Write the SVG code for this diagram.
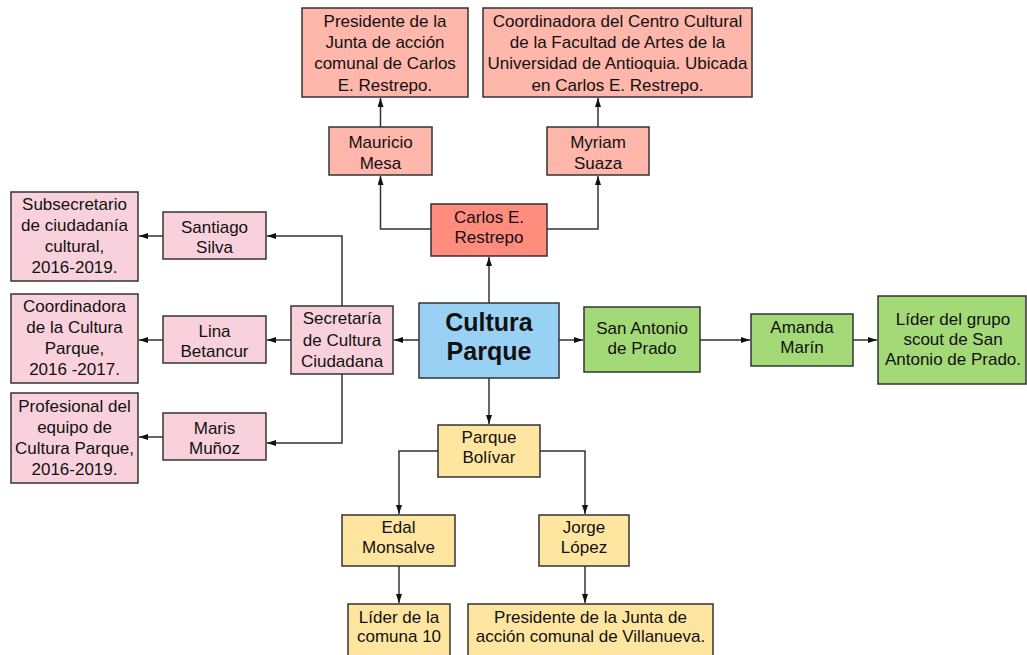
<svg xmlns="http://www.w3.org/2000/svg" width="1027" height="655" viewBox="0 0 1027 655">
<defs>
<style>
rect{stroke:#333;stroke-width:1.5}
.sal{fill:#FFB6AB}
.red{fill:#FF8C7C}
.pink{fill:#F9D1DC}
.blue{fill:#99D1F4}
.green{fill:#A3D977}
.yel{fill:#FFE6A0}
text{font-family:"Liberation Sans",Arial,sans-serif;font-size:17px;fill:#111;text-anchor:middle}
.big{font-size:25px;font-weight:bold}
.c path{fill:none;stroke:#333;stroke-width:1.5;marker-end:url(#ah)}
</style>
<marker id="ah" markerUnits="userSpaceOnUse" markerWidth="10" markerHeight="8" refX="9" refY="3" orient="auto">
<path d="M0,0 L9,3 L0,6 z" fill="#111"/>
</marker>
</defs>
<rect width="1027" height="655" fill="#fff" style="stroke:none"/>

<g class="c" id="connectors">
<path d="M489,303 V257"/>
<path d="M431,229 H380.5 V176"/>
<path d="M547,229 H598 V176"/>
<path d="M380.5,127 V98"/>
<path d="M598,127 V98"/>
<path d="M419,340 H394"/>
<path d="M342,306 V236 H267"/>
<path d="M291,340 H267"/>
<path d="M342,374 V443 H267"/>
<path d="M163,236 H139"/>
<path d="M163,340 H139"/>
<path d="M163,437 H139"/>
<path d="M559,340 H583"/>
<path d="M700,340 H750"/>
<path d="M853,340 H877"/>
<path d="M489,378 V424"/>
<path d="M438,451 H399 V514"/>
<path d="M540,451 H585 V514"/>
<path d="M399,566 V603"/>
<path d="M585,566 V603"/>
</g>

<g id="presidente-cer">
<rect class="sal" x="302" y="8" width="166" height="89"/>
<text x="385" y="26.5">Presidente de la</text>
<text x="385" y="48">Junta de acción</text>
<text x="385" y="69">comunal de Carlos</text>
<text x="385" y="90.5">E. Restrepo.</text>
</g>
<g id="coordinadora-centro">
<rect class="sal" x="483" y="8" width="269" height="89"/>
<text x="617.5" y="26.5">Coordinadora del Centro Cultural</text>
<text x="617.5" y="48">de la Facultad de Artes de la</text>
<text x="617.5" y="69">Universidad de Antioquia. Ubicada</text>
<text x="617.5" y="90.5">en Carlos E. Restrepo.</text>
</g>
<g id="mauricio">
<rect class="sal" x="329" y="127" width="103" height="48"/>
<text x="380.5" y="147.5">Mauricio</text>
<text x="380.5" y="168.5">Mesa</text>
</g>
<g id="myriam">
<rect class="sal" x="547" y="127" width="102" height="48"/>
<text x="598" y="147.5">Myriam</text>
<text x="598" y="168.5">Suaza</text>
</g>
<g id="carlos">
<rect class="red" x="431" y="204" width="116" height="52"/>
<text x="489" y="222.5">Carlos E.</text>
<text x="489" y="243">Restrepo</text>
</g>
<g id="cultura-parque">
<rect class="blue" x="419" y="303" width="140" height="75"/>
<text class="big" x="489" y="331">Cultura</text>
<text class="big" x="489" y="360">Parque</text>
</g>
<g id="secretaria">
<rect class="pink" x="291" y="306" width="102" height="68"/>
<text x="342" y="323.5">Secretaría</text>
<text x="342" y="345.5">de Cultura</text>
<text x="342" y="366.5">Ciudadana</text>
</g>
<g id="santiago">
<rect class="pink" x="163" y="212" width="103" height="47"/>
<text x="214.5" y="232.5">Santiago</text>
<text x="214.5" y="252.5">Silva</text>
</g>
<g id="lina">
<rect class="pink" x="163" y="316" width="103" height="47"/>
<text x="214.5" y="336.5">Lina</text>
<text x="214.5" y="356.5">Betancur</text>
</g>
<g id="maris">
<rect class="pink" x="163" y="413" width="103" height="47"/>
<text x="214.5" y="433.5">Maris</text>
<text x="214.5" y="453.5">Muñoz</text>
</g>
<g id="subsecretario">
<rect class="pink" x="11" y="192" width="127" height="89"/>
<text x="74.5" y="210">Subsecretario</text>
<text x="74.5" y="231">de ciudadanía</text>
<text x="74.5" y="252">cultural,</text>
<text x="74.5" y="273">2016-2019.</text>
</g>
<g id="coordinadora-cultura">
<rect class="pink" x="11" y="294" width="127" height="89"/>
<text x="74.5" y="312">Coordinadora</text>
<text x="74.5" y="333">de la Cultura</text>
<text x="74.5" y="354">Parque,</text>
<text x="74.5" y="375">2016 -2017.</text>
</g>
<g id="profesional">
<rect class="pink" x="11" y="393" width="127" height="90"/>
<text x="74.5" y="412">Profesional del</text>
<text x="74.5" y="433">equipo de</text>
<text x="74.5" y="454">Cultura Parque,</text>
<text x="74.5" y="475">2016-2019.</text>
</g>
<g id="san-antonio">
<rect class="green" x="584" y="307" width="116" height="65"/>
<text x="642" y="333.5">San Antonio</text>
<text x="642" y="353.5">de Prado</text>
</g>
<g id="amanda">
<rect class="green" x="751" y="314" width="102" height="52"/>
<text x="802" y="332.5">Amanda</text>
<text x="802" y="352.5">Marín</text>
</g>
<g id="lider-scout">
<rect class="green" x="878" y="296" width="148" height="88"/>
<text x="953" y="324.5">Líder del grupo</text>
<text x="953" y="345">scout de San</text>
<text x="953" y="365">Antonio de Prado.</text>
</g>
<g id="parque-bolivar">
<rect class="yel" x="438" y="425" width="102" height="52"/>
<text x="489" y="442.5">Parque</text>
<text x="489" y="463">Bolívar</text>
</g>
<g id="edal">
<rect class="yel" x="342" y="515" width="113" height="51"/>
<text x="398.5" y="532.5">Edal</text>
<text x="398.5" y="552.5">Monsalve</text>
</g>
<g id="jorge">
<rect class="yel" x="539" y="515" width="90" height="51"/>
<text x="584" y="532.5">Jorge</text>
<text x="584" y="552.5">López</text>
</g>
<g id="lider-comuna">
<rect class="yel" x="348" y="604" width="102" height="60"/>
<text x="399" y="622.5">Líder de la</text>
<text x="399" y="642">comuna 10</text>
</g>
<g id="presidente-villanueva">
<rect class="yel" x="468" y="604" width="245" height="60"/>
<text x="590.5" y="622.5">Presidente de la Junta de</text>
<text x="590.5" y="642">acción comunal de Villanueva.</text>
</g>
</svg>
